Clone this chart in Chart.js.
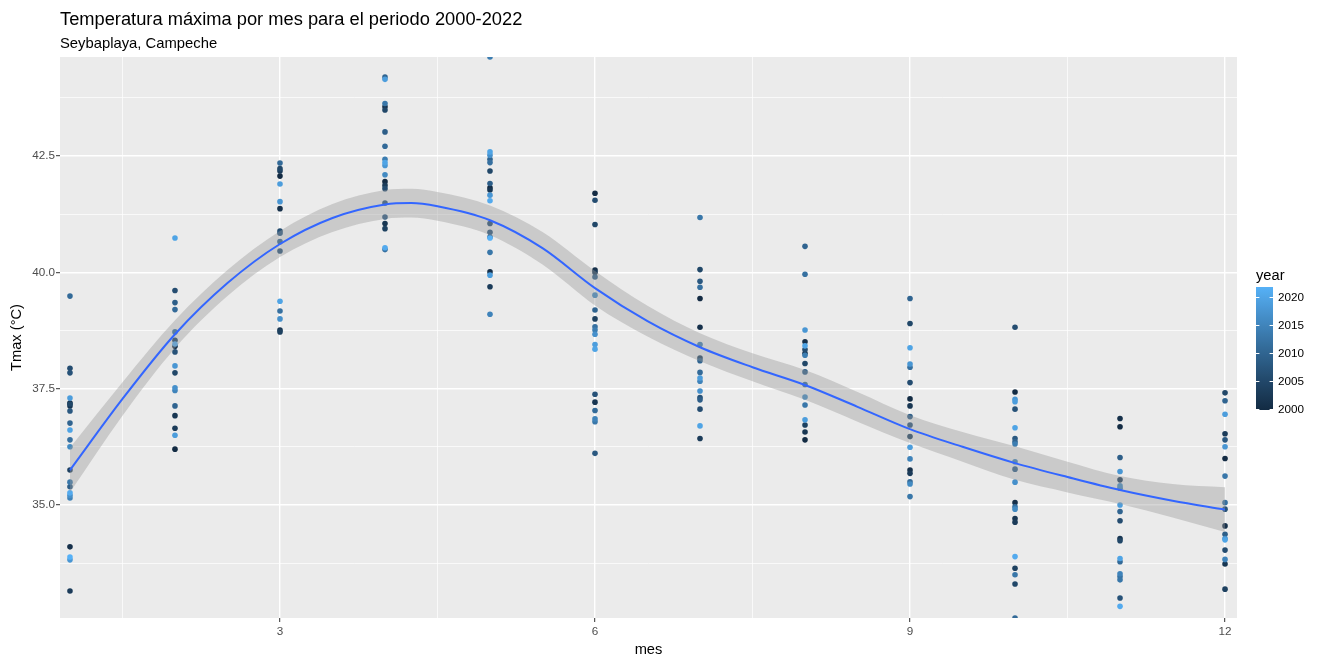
<!DOCTYPE html>
<html lang="es">
<head>
<meta charset="utf-8">
<title>Temperatura máxima por mes — Seybaplaya, Campeche</title>
<script src="https://cdn.jsdelivr.net/npm/chart.js@4.4.1/dist/chart.umd.min.js"></script>
<style>
  html, body { margin: 0; padding: 0; background: #ffffff; }
  #wrap { width: 1332px; height: 660px; position: relative; }
</style>
</head>
<body>
<div id="wrap"><canvas id="grafica" width="1332" height="660"></canvas></div>
<script>
// ---- Datos: Tmax mensual (°C), una entrada por año 2000–2022 (null = sin dato) ----
const years = [2000, 2001, 2002, 2003, 2004, 2005, 2006, 2007, 2008, 2009, 2010, 2011,
               2012, 2013, 2014, 2015, 2016, 2017, 2018, 2019, 2020, 2021, 2022];
const meses = [1, 2, 3, 4, 5, 6, 7, 8, 9, 10, 11, 12];

const tmaxEne = [37.19, 34.10, 37.13, 33.15, 35.75, 37.17, 37.94, 37.84, 37.02, 35.39, 36.76, 39.49, 36.40, 35.49, null, 35.15, 36.25, 35.21, 33.82, 37.30, 36.61, 35.26, 33.88];
const tmaxFeb = [36.20, 38.41, 36.92, 36.65, 38.54, 37.84, 39.61, 38.29, null, 39.35, 37.13, 39.20, 38.72, null, null, 37.46, null, 37.52, 37.99, 36.50, 40.74, 38.46, null];
const tmaxMar = [42.07, 41.37, 38.76, 42.18, 38.72, 42.23, 40.89, 40.46, 40.84, null, 40.66, 42.35, 39.17, null, null, null, null, 39.00, 41.52, 41.90, 39.38, null, null];
const tmaxAbr = [41.95, 43.56, 41.05, 41.87, 40.94, 43.49, 41.80, 41.49, 41.19, 43.02, 44.20, 42.71, 40.49, 43.63, 42.43, null, 42.10, null, 42.30, 44.15, 42.36, 40.53, null];
const tmaxMay = [41.82, 40.01, 41.77, 39.69, null, 42.18, 41.05, 40.86, null, 41.91, 42.43, 40.76, 42.36, 40.43, 44.63, 39.10, null, 42.52, 41.66, 39.94, 42.59, 41.54, 40.74];
const tmaxJun = [41.70, 40.05, 37.21, 40.00, 39.00, 41.03, 41.55, 37.38, 36.11, 39.90, 39.19, 37.03, 38.83, 36.79, 38.76, 36.85, 39.51, 38.67, null, 38.45, 38.35, null, null];
const tmaxJul = [39.44, 38.82, null, 36.43, 38.16, 40.06, 37.06, 37.31, 39.81, 37.26, 38.10, 37.85, 39.68, 41.18, 38.45, 37.66, null, 37.45, null, 37.73, 36.70, null, null];
const tmaxAgo = [36.40, 38.51, 36.57, 38.26, 36.72, 38.04, 38.34, null, null, 37.86, 40.56, 37.59, 39.96, 37.15, 38.22, null, 37.32, null, 38.76, 36.83, 38.42, null, null];
const tmaxSep = [37.28, 35.75, 37.13, 35.68, 36.47, 38.90, 37.63, 36.72, null, 36.90, 39.44, 35.50, 37.96, 35.18, null, 35.99, 35.45, null, 38.03, 36.24, 38.38, null, null];
const tmaxOct = [37.43, 35.05, 34.71, 34.63, 33.64, 33.30, 38.82, 37.06, 36.43, 35.77, 36.36, 32.57, 34.96, 33.50, 36.31, 35.93, 34.91, 35.49, 37.27, 37.22, 36.66, 33.89, null];
const tmaxNov = [36.68, 36.86, 34.28, 35.54, null, 34.23, 34.66, 33.00, null, 36.02, 34.86, 33.78, 33.46, 33.39, 35.36, 33.52, 35.41, null, 35.72, 35.00, 33.85, 32.82, null];
const tmaxDic = [36.00, 34.55, 33.73, 36.53, 33.19, 37.41, 34.03, 34.91, 36.40, 34.37, 37.24, null, 35.05, 35.62, null, 33.83, null, 34.28, 36.25, 36.95, 34.25, null, null];

// ---- Curva suavizada (loess) y su banda de confianza ----
const suaveX  = [1, 1.5, 2, 2.5, 3, 3.5, 4, 4.25, 4.5, 5, 5.5, 6, 6.5, 7, 7.5, 8, 8.5, 9, 9.5, 10, 10.5, 11, 11.5, 12];
const suaveY  = [35.75, 37.28, 38.67, 39.77, 40.61, 41.17, 41.46, 41.49, 41.42, 41.12, 40.52, 39.66, 38.95, 38.39, 37.96, 37.58, 37.11, 36.63, 36.25, 35.90, 35.60, 35.32, 35.09, 34.90];
const suaveLo = [35.27, 36.92, 38.37, 39.49, 40.33, 40.87, 41.15, 41.18, 41.11, 40.80, 40.17, 39.29, 38.62, 38.09, 37.66, 37.26, 36.79, 36.33, 35.93, 35.54, 35.27, 35.02, 34.73, 34.42];
const suaveHi = [36.23, 37.64, 38.97, 40.05, 40.89, 41.47, 41.77, 41.80, 41.73, 41.44, 40.87, 40.03, 39.28, 38.69, 38.26, 37.90, 37.43, 36.93, 36.57, 36.26, 35.93, 35.62, 35.45, 35.38];

// ---- Marcas de los ejes y de la leyenda ----
const xTicks = [3, 6, 9, 12];
const yTicks = [35, 37.5, 40, 42.5];
const legendBreaks = [2000, 2005, 2010, 2015, 2020];

const tmaxPorMes = [tmaxEne, tmaxFeb, tmaxMar, tmaxAbr, tmaxMay, tmaxJun,
                    tmaxJul, tmaxAgo, tmaxSep, tmaxOct, tmaxNov, tmaxDic];

const FONT = "'Liberation Sans', Arial, Helvetica, sans-serif";

// ---- Escala de color continua (interpolación en espacio Lab) ----
const COLOR_BAJO = '#132B43';
const COLOR_ALTO = '#56B1F7';
function hexToRgb(h) { return [parseInt(h.slice(1, 3), 16), parseInt(h.slice(3, 5), 16), parseInt(h.slice(5, 7), 16)]; }
function toLin(c) { c /= 255; return c <= 0.04045 ? c / 12.92 : Math.pow((c + 0.055) / 1.055, 2.4); }
function toSrgb(c) {
  const v = c <= 0.0031308 ? 12.92 * c : 1.055 * Math.pow(c, 1 / 2.4) - 0.055;
  return Math.round(Math.min(1, Math.max(0, v)) * 255);
}
const WX = 0.95047, WY = 1.0, WZ = 1.08883;
function fLab(t) { return t > 0.008856 ? Math.cbrt(t) : 7.787 * t + 16 / 116; }
function fInv(t) { return t > 0.206893 ? t * t * t : (t - 16 / 116) / 7.787; }
function rgbToLab(rgb) {
  const [r, g, b] = rgb.map(toLin);
  const X = (0.4124 * r + 0.3576 * g + 0.1805 * b) / WX;
  const Y = (0.2126 * r + 0.7152 * g + 0.0722 * b) / WY;
  const Z = (0.0193 * r + 0.1192 * g + 0.9505 * b) / WZ;
  const fx = fLab(X), fy = fLab(Y), fz = fLab(Z);
  return [116 * fy - 16, 500 * (fx - fy), 200 * (fy - fz)];
}
function labToRgb(lab) {
  const [L, a, b] = lab;
  const fy = (L + 16) / 116, fx = fy + a / 500, fz = fy - b / 200;
  const X = fInv(fx) * WX, Y = fInv(fy) * WY, Z = fInv(fz) * WZ;
  const r = 3.2406 * X - 1.5372 * Y - 0.4986 * Z;
  const g = -0.9689 * X + 1.8758 * Y + 0.0415 * Z;
  const bl = 0.0557 * X - 0.2040 * Y + 1.0570 * Z;
  return [toSrgb(r), toSrgb(g), toSrgb(bl)];
}
const labBajo = rgbToLab(hexToRgb(COLOR_BAJO));
const labAlto = rgbToLab(hexToRgb(COLOR_ALTO));
const anioMin = years[0];
const anioMax = years[years.length - 1];
function colorAnio(anio) {
  const t = (anio - anioMin) / (anioMax - anioMin);
  const lab = labBajo.map((v, i) => v + (labAlto[i] - v) * t);
  const [r, g, b] = labToRgb(lab);
  return `rgb(${r},${g},${b})`;
}

// ---- Puntos (mes, Tmax) coloreados por año ----
const puntos = [];
const coloresPuntos = [];
tmaxPorMes.forEach((serie, k) => {
  serie.forEach((v, i) => {
    if (v === null) return;
    puntos.push({ x: meses[k], y: v });
    coloresPuntos.push(colorAnio(years[i]));
  });
});

const xy = (xs, ys) => xs.map((x, i) => ({ x, y: ys[i] }));

// Rejilla menor: puntos medios entre marcas principales (y uno a cada lado)
function rejillaMenor(mayores) {
  const paso = mayores[1] - mayores[0];
  const out = [mayores[0] - paso / 2];
  for (let i = 0; i < mayores.length - 1; i++) out.push((mayores[i] + mayores[i + 1]) / 2);
  out.push(mayores[mayores.length - 1] + paso / 2);
  return out;
}
const xMenor = rejillaMenor(xTicks);
const yMenor = rejillaMenor(yTicks);
const esMayor = (lista, v) => lista.some(m => Math.abs(m - v) < 1e-9);

// ---- Límites del panel ----
const X_MIN = 0.905, X_MAX = 12.114;
const Y_MIN = 32.57, Y_MAX = 44.63;

// ---- Plugins de dibujo: fondo del panel, títulos y barra de color ----
const fondoPanel = {
  id: 'fondoPanel',
  beforeDraw(chart) {
    const { ctx, chartArea: a } = chart;
    ctx.save();
    ctx.fillStyle = '#FFFFFF';
    ctx.fillRect(0, 0, chart.width, chart.height);
    ctx.fillStyle = '#EBEBEB';
    ctx.fillRect(a.left, a.top, a.right - a.left, a.bottom - a.top);
    ctx.restore();
  }
};

const titulos = {
  id: 'titulos',
  afterDraw(chart) {
    const { ctx, chartArea: a } = chart;
    ctx.save();
    ctx.fillStyle = '#000000';
    ctx.textAlign = 'left';
    ctx.textBaseline = 'alphabetic';
    ctx.font = `18.3px ${FONT}`;
    ctx.fillText('Temperatura máxima por mes para el periodo 2000-2022', a.left, 24.5);
    ctx.font = `14.8px ${FONT}`;
    ctx.fillText('Seybaplaya, Campeche', a.left, 48);
    ctx.restore();
  }
};

const barraColor = {
  id: 'barraColor',
  afterDraw(chart) {
    const { ctx } = chart;
    const x0 = 1256, ancho = 17, yArriba = 287, yAbajo = 410;
    const yDe = anio => yAbajo - (anio - anioMin) / (anioMax - anioMin) * (yAbajo - yArriba);
    ctx.save();
    // título
    ctx.fillStyle = '#000000';
    ctx.font = `14.67px ${FONT}`;
    ctx.textAlign = 'left';
    ctx.textBaseline = 'alphabetic';
    ctx.fillText('year', x0, 280);
    // degradado
    const grad = ctx.createLinearGradient(0, yAbajo, 0, yArriba);
    for (let i = 0; i <= 40; i++) {
      const anio = anioMin + (anioMax - anioMin) * i / 40;
      grad.addColorStop(i / 40, colorAnio(anio));
    }
    ctx.fillStyle = grad;
    ctx.fillRect(x0, yArriba, ancho, yAbajo - yArriba);
    // marcas y etiquetas
    ctx.strokeStyle = '#FFFFFF';
    ctx.lineWidth = 1;
    ctx.font = `11.7px ${FONT}`;
    ctx.textBaseline = 'middle';
    ctx.fillStyle = '#000000';
    legendBreaks.forEach(anio => {
      const y = Math.round(yDe(anio)) - 0.5;
      ctx.beginPath();
      ctx.moveTo(x0, y); ctx.lineTo(x0 + ancho / 5, y);
      ctx.moveTo(x0 + ancho, y); ctx.lineTo(x0 + ancho - ancho / 5, y);
      ctx.stroke();
      ctx.fillText(String(anio), x0 + ancho + 5, yDe(anio));
    });
    ctx.restore();
  }
};

const TRANSP = 'rgba(0,0,0,0)';

new Chart(document.getElementById('grafica'), {
  type: 'scatter',
  data: {
    datasets: [
      {
        label: 'Tmax',
        type: 'scatter',
        data: puntos,
        pointBackgroundColor: coloresPuntos,
        pointBorderWidth: 0,
        pointBorderColor: TRANSP,
        pointRadius: 2.8,
        pointHoverRadius: 2.8,
        clip: 0,
        order: 2
      },
      {
        label: 'banda inferior',
        type: 'line',
        data: xy(suaveX, suaveLo),
        showLine: true,
        borderColor: TRANSP,
        borderWidth: 0,
        pointRadius: 0,
        cubicInterpolationMode: 'monotone',
        fill: false,
        order: 1
      },
      {
        label: 'banda superior',
        type: 'line',
        data: xy(suaveX, suaveHi),
        showLine: true,
        borderColor: TRANSP,
        borderWidth: 0,
        pointRadius: 0,
        cubicInterpolationMode: 'monotone',
        fill: '-1',
        backgroundColor: 'rgba(153,153,153,0.4)',
        order: 1
      },
      {
        label: 'loess',
        type: 'line',
        data: xy(suaveX, suaveY),
        showLine: true,
        borderColor: '#3366FF',
        borderWidth: 2,
        pointRadius: 0,
        cubicInterpolationMode: 'monotone',
        fill: false,
        order: 0
      }
    ]
  },
  options: {
    responsive: false,
    animation: false,
    devicePixelRatio: 1,
    events: [],
    layout: { padding: { left: 0, top: 57, right: 95, bottom: 0 } },
    plugins: {
      legend: { display: false },
      title: { display: false },
      tooltip: { enabled: false }
    },
    scales: {
      x: {
        type: 'linear',
        position: 'bottom',
        min: X_MIN,
        max: X_MAX,
        afterBuildTicks: s => { s.ticks = xMenor.concat(xTicks).sort((a, b) => a - b).map(v => ({ value: v })); },
        afterFit: s => { s.height = 42; s.paddingLeft = 0; s.paddingRight = 0; },
        border: { display: false },
        grid: {
          color: '#FFFFFF',
          lineWidth: c => esMayor(xTicks, c.tick.value) ? 1.4 : 0.7,
          drawTicks: true,
          tickLength: 4,
          tickWidth: 1,
          tickColor: c => esMayor(xTicks, c.tick.value) ? '#333333' : TRANSP
        },
        ticks: {
          autoSkip: false,
          maxRotation: 0,
          minRotation: 0,
          padding: 3,
          color: '#4D4D4D',
          font: { family: FONT, size: 11.7 },
          callback: v => esMayor(xTicks, v) ? String(v) : ''
        },
        title: {
          display: true,
          text: 'mes',
          color: '#000000',
          font: { family: FONT, size: 14.67 },
          padding: { top: 0, bottom: 1 }
        }
      },
      y: {
        type: 'linear',
        position: 'left',
        min: Y_MIN,
        max: Y_MAX,
        afterBuildTicks: s => { s.ticks = yMenor.concat(yTicks).sort((a, b) => a - b).map(v => ({ value: v })); },
        afterFit: s => { s.width = 60; s.paddingTop = 0; s.paddingBottom = 0; },
        border: { display: false },
        grid: {
          color: '#FFFFFF',
          lineWidth: c => esMayor(yTicks, c.tick.value) ? 1.4 : 0.7,
          drawTicks: true,
          tickLength: 4,
          tickWidth: 1,
          tickColor: c => esMayor(yTicks, c.tick.value) ? '#333333' : TRANSP
        },
        ticks: {
          autoSkip: false,
          padding: 1,
          color: '#4D4D4D',
          font: { family: FONT, size: 11.7 },
          callback: v => esMayor(yTicks, v) ? v.toFixed(1) : ''
        },
        title: {
          display: true,
          text: 'Tmax (°C)',
          color: '#000000',
          font: { family: FONT, size: 14.67 },
          padding: { top: 8, bottom: 0 }
        }
      }
    }
  },
  plugins: [fondoPanel, titulos, barraColor]
});
</script>
</body>
</html>
